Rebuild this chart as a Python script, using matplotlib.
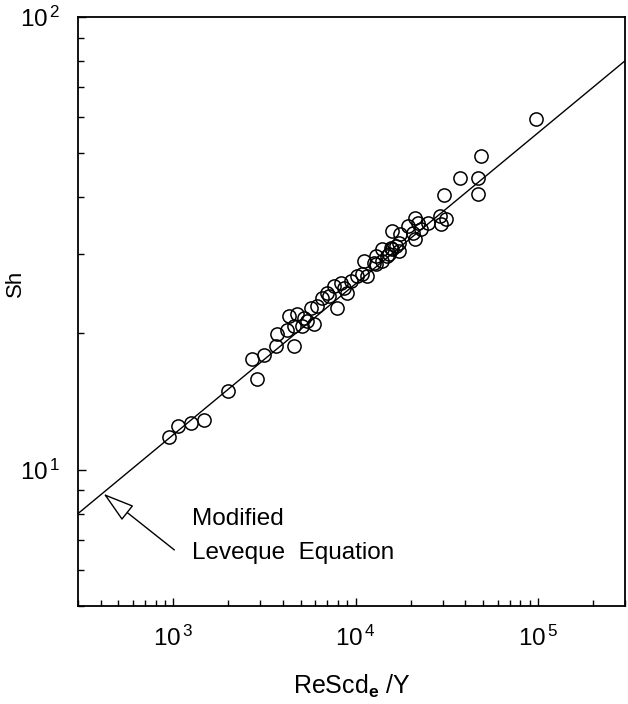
import matplotlib
matplotlib.use("Agg")
import matplotlib.pyplot as plt
from matplotlib.ticker import LogLocator, FuncFormatter, NullFormatter
import numpy as np

plt.rcParams['font.family'] = ['Liberation Sans', 'DejaVu Sans']
plt.rcParams['mathtext.fontset'] = 'custom'
plt.rcParams['mathtext.rm'] = 'Liberation Sans'
plt.rcParams['mathtext.it'] = 'Liberation Sans'
plt.rcParams['mathtext.bf'] = 'Liberation Sans:bold'

# Experimental data (ReScd_e/Y, Sh)
x_data = [951, 1065, 1254, 1477, 1998, 2877, 2702, 3143, 3655, 3701,
          4197, 4584, 4304, 4760, 5198, 4584, 5069, 5895, 5677, 6122,
          6520, 6944, 7876, 7584, 8599, 8930, 8279, 9390, 10127, 10784,
          11484, 11058, 12543, 13874, 12862, 12862, 14772, 13874, 15730, 15147,
          17179, 16542, 17615, 15730, 19484, 20748, 21278, 22096, 21278, 22946,
          25055, 29140, 31430, 29512, 30640, 37488, 47000, 47000, 48820, 97500,
          5398, 7120, 17179, 15536]
y_data = [11.8, 12.5, 12.7, 12.9, 14.9, 15.9, 17.6, 17.9, 18.8, 19.9,
          20.4, 18.8, 21.8, 22.1, 21.6, 20.8, 20.8, 21.0, 22.8, 23.0,
          23.9, 24.6, 22.8, 25.5, 25.2, 24.6, 25.9, 26.1, 26.8, 27.1,
          26.8, 28.9, 28.6, 28.9, 29.7, 28.5, 29.7, 30.8, 30.8, 30.0,
          31.7, 31.2, 33.2, 33.7, 34.6, 33.4, 32.4, 35.1, 36.0, 34.1,
          35.1, 36.4, 35.8, 34.9, 40.5, 44.2, 44.0, 40.7, 49.2, 59.4,
          21.3, 24.2, 30.4, 30.9]

# Modified Leveque equation line
line_x = [300, 300000]
line_y = [8.0, 80.0]

# Annotation
arrow_tip = (414, 8.85)
arrow_tail = (1013, 6.65)
note_lines = ["Modified", "Leveque  Equation"]

fig = plt.figure(figsize=(6.28, 7.04), dpi=100)
ax = fig.add_axes([0.1242, 0.1392, 0.871, 0.8367])

ax.plot(line_x, line_y, color='black', lw=1.0)
ax.plot(x_data, y_data, linestyle='none', marker='o', markersize=9.5,
        markerfacecolor='none', markeredgecolor='black', markeredgewidth=1.1)

ax.set_xscale('log')
ax.set_yscale('log')
ax.set_xlim(300, 300000)
ax.set_ylim(5, 100)

def pow_fmt(v, pos):
    e = int(round(np.log10(v)))
    return r'$\mathdefault{10^{\,%d}}$' % e

ax.xaxis.set_major_locator(LogLocator(base=10, numticks=10))
ax.yaxis.set_major_locator(LogLocator(base=10, numticks=10))
ax.xaxis.set_minor_locator(LogLocator(base=10, subs=range(2, 10), numticks=20))
ax.yaxis.set_minor_locator(LogLocator(base=10, subs=range(2, 10), numticks=20))
ax.xaxis.set_major_formatter(FuncFormatter(pow_fmt))
ax.yaxis.set_major_formatter(FuncFormatter(pow_fmt))
ax.xaxis.set_minor_formatter(NullFormatter())
ax.yaxis.set_minor_formatter(NullFormatter())

ax.tick_params(which='both', direction='in', top=False, right=False,
               labelsize=17.5, width=1.0)
ax.tick_params(which='major', length=6)
ax.tick_params(which='minor', length=4)
ax.tick_params(axis='x', which='major', pad=14)
ax.tick_params(axis='y', which='major', pad=13)

for s in ax.spines.values():
    s.set_linewidth(1.3)

ax.set_xlabel(r'ReScd$_{\mathbf{e}}$ /Y', fontsize=18)
ax.set_ylabel('Sh', fontsize=16)
ax.xaxis.label.set_verticalalignment('center')
ax.xaxis.set_label_coords(0.5, -0.137)
ax.yaxis.set_label_coords(-0.095, 0.548)

ax.annotate('', xy=arrow_tip, xytext=arrow_tail,
            arrowprops=dict(arrowstyle='-|>,head_length=1.0,head_width=0.3',
                            mutation_scale=20, fc='white', ec='black', lw=1.0,
                            shrinkA=0, shrinkB=0))
ax.text(0.208, 0.148, note_lines[0], transform=ax.transAxes, fontsize=17.5,
        va='center', ha='left')
ax.text(0.208, 0.090, note_lines[1], transform=ax.transAxes, fontsize=17.5,
        va='center', ha='left')

fig.savefig('out.png', dpi=100)
